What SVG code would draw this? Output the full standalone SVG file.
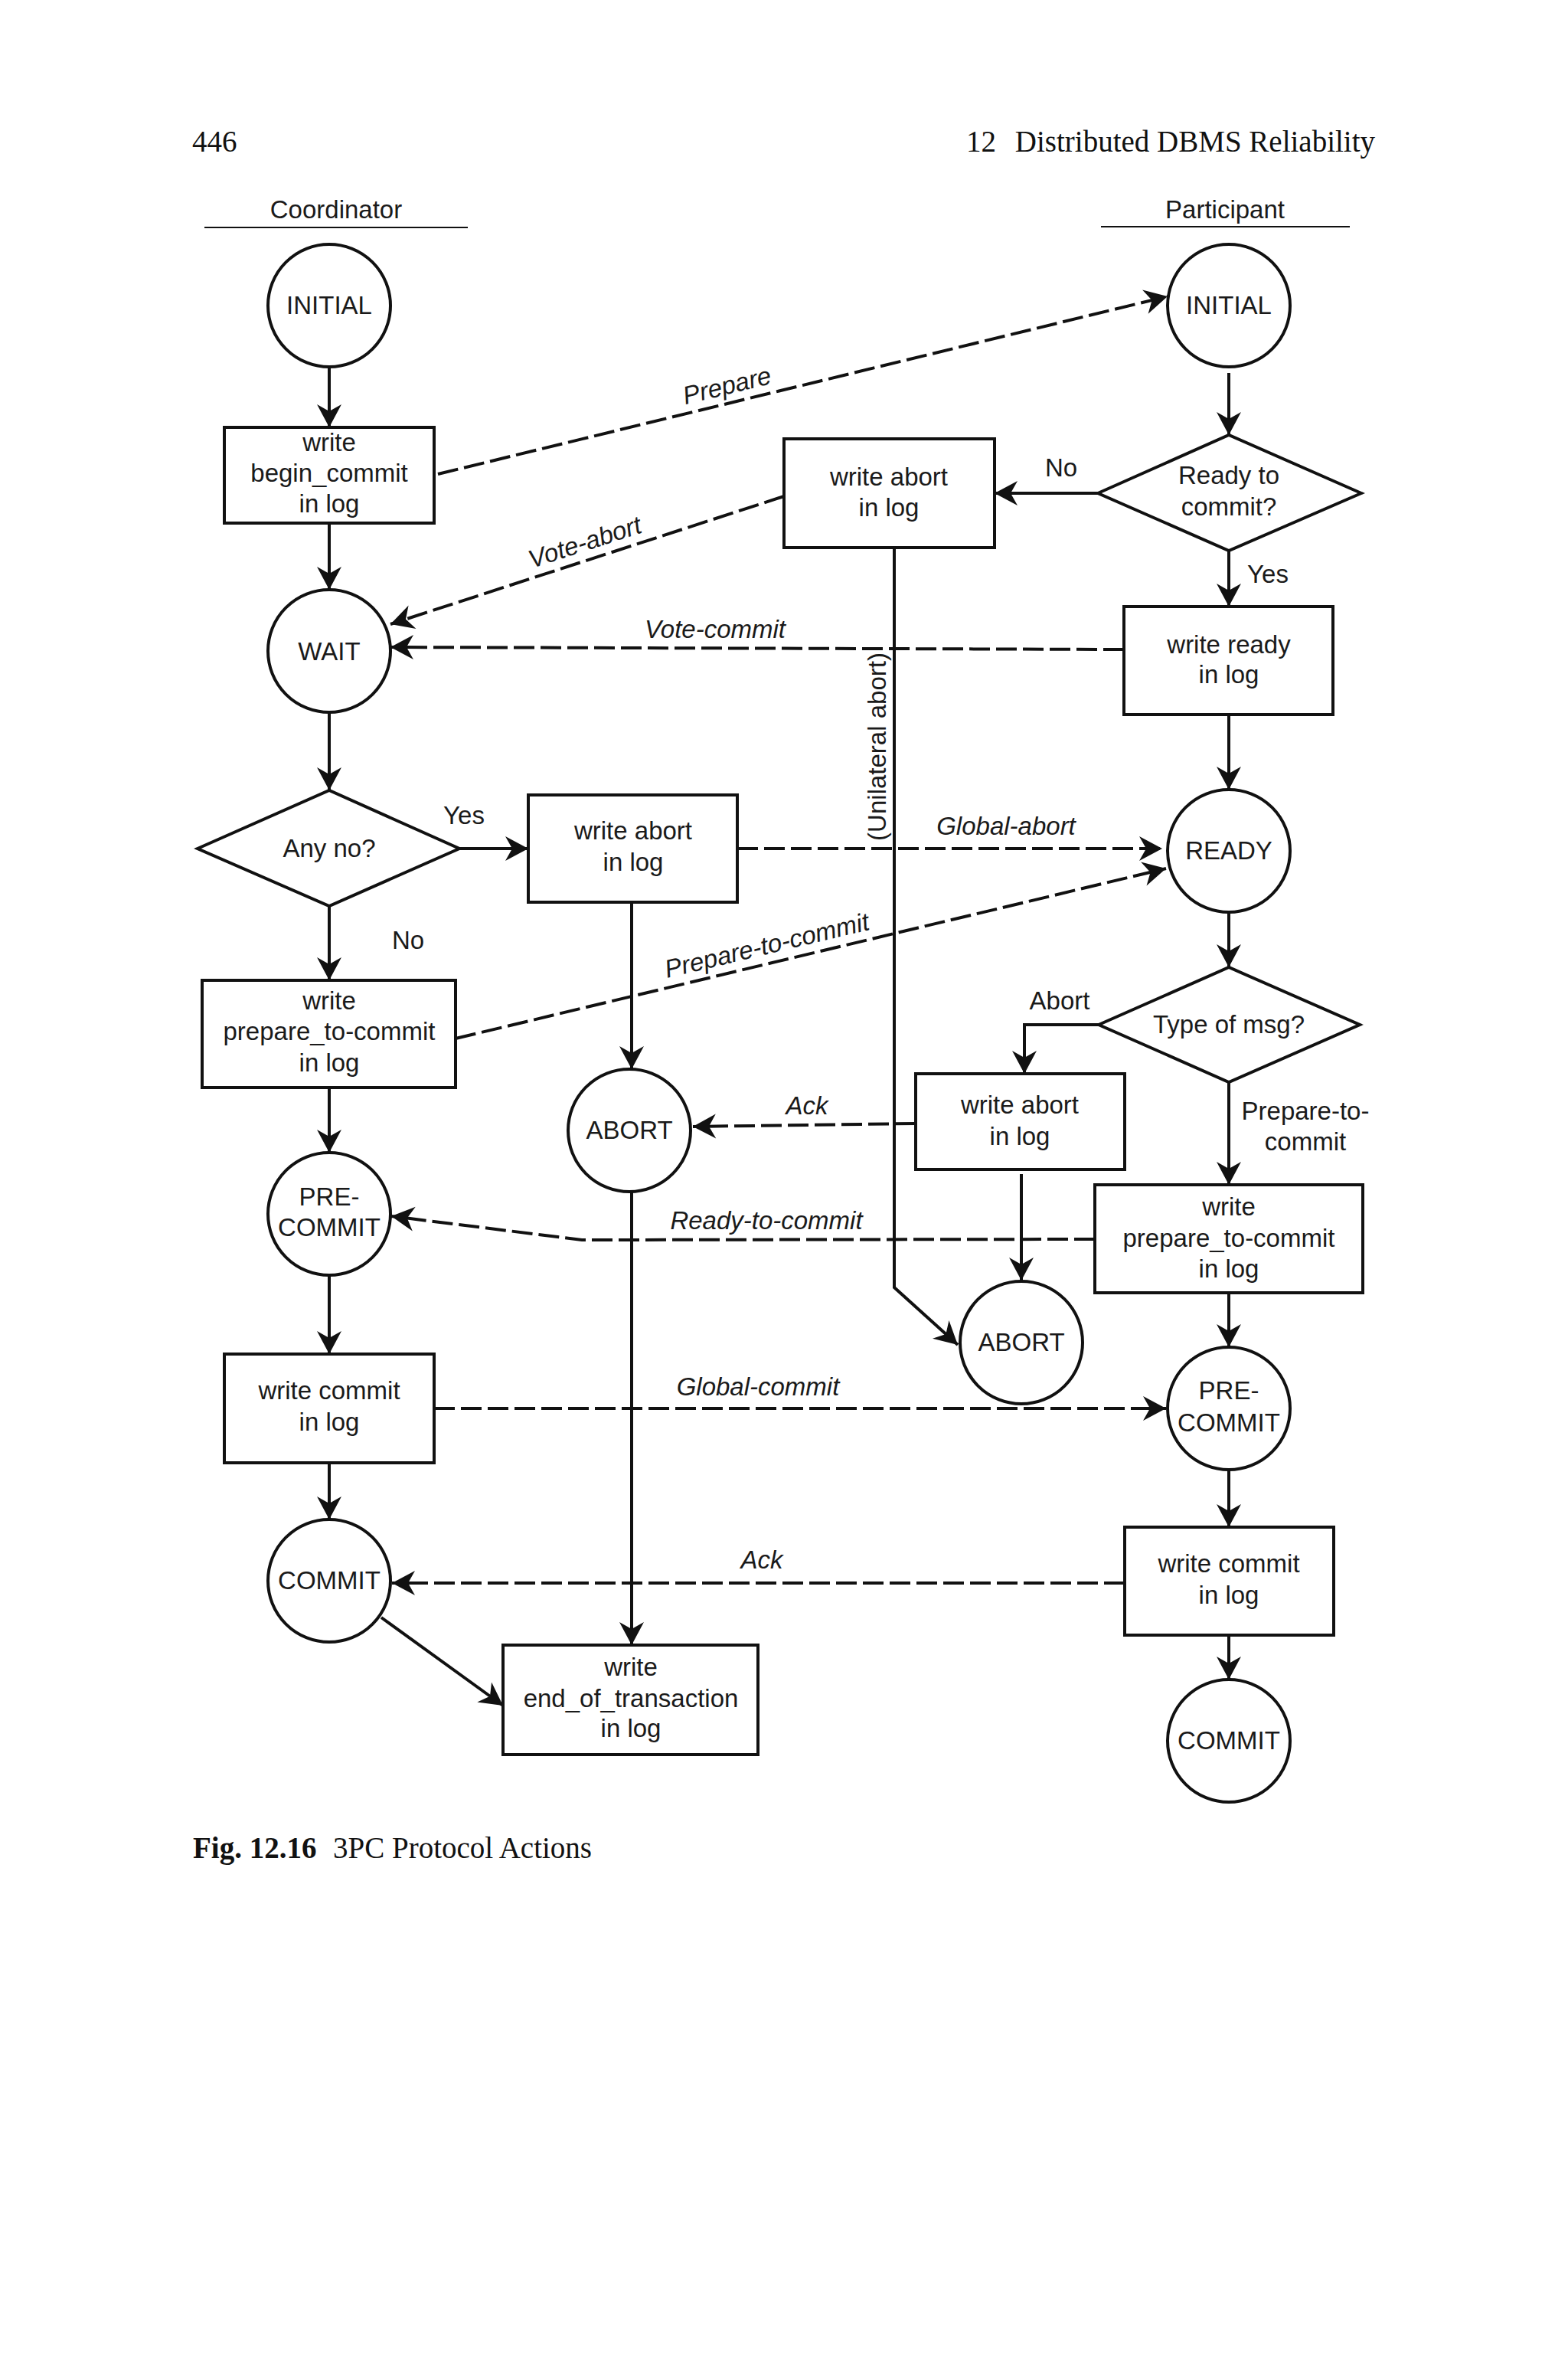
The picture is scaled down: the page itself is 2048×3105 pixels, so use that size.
<svg xmlns="http://www.w3.org/2000/svg" width="2048" height="3105" viewBox="0 0 2048 3105">
<style>
.s{fill:#fff;stroke:#111;stroke-width:4}
.t{font-family:"Liberation Sans",Arial,sans-serif;font-size:33px;fill:#1a1a1a;text-anchor:middle}
.i{font-family:"Liberation Sans",Arial,sans-serif;font-size:33px;fill:#1a1a1a;text-anchor:middle;font-style:italic}
.serif{font-family:"Liberation Serif","Times New Roman",serif;font-size:39px;fill:#111}
.c{fill:none;stroke:#111;stroke-width:4}
.d{fill:none;stroke:#111;stroke-width:4;stroke-dasharray:27 8}
.a{marker-end:url(#ah)}
</style>
<defs>
<marker id="ah" markerUnits="userSpaceOnUse" markerWidth="40" markerHeight="40" viewBox="-32 -20 36 40" refX="0" refY="0" orient="auto">
<path d="M0,0 L-30,-16 L-21,0 L-30,16 Z" fill="#111"/>
</marker>
</defs>
<rect width="2048" height="3105" fill="#fff"/>

<g id="header">
<text class="serif" x="251" y="198">446</text>
<text class="serif" x="1262" y="198">12</text>
<text class="serif" x="1796" y="198" text-anchor="end">Distributed DBMS Reliability</text>
<text class="t" x="439" y="285">Coordinator</text>
<line x1="267" y1="297" x2="611" y2="297" stroke="#111" stroke-width="2"/>
<text class="t" x="1600" y="285">Participant</text>
<line x1="1438" y1="296" x2="1763" y2="296" stroke="#111" stroke-width="2"/>
</g>

<g id="connectors">
<path class="c a" d="M430,479 L430,558"/>
<path class="c a" d="M430,683 L430,770"/>
<path class="c a" d="M430,930 L430,1032"/>
<path class="c a" d="M600,1108 L690,1108"/>
<path class="c a" d="M430,1183 L430,1280"/>
<path class="c a" d="M825,1178 L825,1396"/>
<path class="c a" d="M430,1420 L430,1505"/>
<path class="c a" d="M430,1665 L430,1768"/>
<path class="c a" d="M430,1910 L430,1984"/>
<path class="c a" d="M498,2112 L657,2227"/>
<path class="c a" d="M825,1556 L825,2148"/>
<path class="c a" d="M1605,487 L1605,568"/>
<path class="c a" d="M1434,644 L1299,644"/>
<path class="c a" d="M1605,719 L1605,792"/>
<path class="c a" d="M1605,933 L1605,1031"/>
<path class="c a" d="M1605,1191 L1605,1263"/>
<path class="c a" d="M1435,1338 L1338,1338 L1338,1402"/>
<path class="c a" d="M1605,1413 L1605,1547"/>
<path class="c a" d="M1334,1533 L1334,1672"/>
<path class="c a" d="M1605,1688 L1605,1759"/>
<path class="c a" d="M1605,1919 L1605,1994"/>
<path class="c a" d="M1605,2135 L1605,2193"/>
<path class="c a" d="M1168,715 L1168,1681 L1251,1756"/>

<path class="d a" d="M572,619 L1525,387"/>
<path class="d a" d="M1024,648 L510,815"/>
<path class="d a" d="M1468,848 L510,845"/>
<path class="d a" d="M963,1108 L1518,1108"/>
<path class="d a" d="M595,1356 L1523,1134"/>
<path class="d a" d="M1196,1467 L905,1471"/>
<path class="d a" d="M1430,1618 L760,1619 L511,1588"/>
<path class="d a" d="M567,1839 L1523,1839"/>
<path class="d a" d="M1469,2067 L512,2067"/>

<text class="i" transform="translate(955,526) rotate(-13.68)" y="-12">Prepare</text>
<text class="i" transform="translate(771,730) rotate(-18)" y="-12">Vote-abort</text>
<text class="i" x="934" y="833">Vote-commit</text>
<text class="t" transform="translate(1157,975) rotate(-90)">(Unilateral abort)</text>
<text class="i" x="1314" y="1090">Global-abort</text>
<text class="i" transform="translate(1007,1257) rotate(-13.45)" y="-12">Prepare-to-commit</text>
<text class="i" x="1054" y="1455">Ack</text>
<text class="i" x="1001" y="1605">Ready-to-commit</text>
<text class="i" x="990" y="1822">Global-commit</text>
<text class="i" x="995" y="2048">Ack</text>

<text class="t" x="1386" y="622">No</text>
<text class="t" x="1656" y="761">Yes</text>
<text class="t" x="606" y="1076">Yes</text>
<text class="t" x="533" y="1239">No</text>
<text class="t" x="1384" y="1318">Abort</text>
<text class="t" x="1705" y="1462">Prepare-to-</text>
<text class="t" x="1705" y="1502">commit</text>
</g>

<g id="c_initial"><circle class="s" cx="430" cy="399" r="80"/><text class="t" x="430" y="410">INITIAL</text></g>
<g id="c_begin"><rect class="s" x="293" y="558" width="274" height="125"/><text class="t" x="430" y="589">write</text><text class="t" x="430" y="629">begin_commit</text><text class="t" x="430" y="669">in log</text></g>
<g id="c_wait"><circle class="s" cx="430" cy="850" r="80"/><text class="t" x="430" y="862">WAIT</text></g>
<g id="c_anyno"><polygon class="s" points="258,1108 430,1032 600,1108 430,1183"/><text class="t" x="430" y="1119">Any no?</text></g>
<g id="c_writeabort"><rect class="s" x="690" y="1038" width="273" height="140"/><text class="t" x="827" y="1096">write abort</text><text class="t" x="827" y="1137">in log</text></g>
<g id="c_prepare"><rect class="s" x="264" y="1280" width="331" height="140"/><text class="t" x="430" y="1318">write</text><text class="t" x="430" y="1358">prepare_to-commit</text><text class="t" x="430" y="1399">in log</text></g>
<g id="c_abort"><circle class="s" cx="822" cy="1476" r="80"/><text class="t" x="822" y="1487">ABORT</text></g>
<g id="c_precommit"><circle class="s" cx="430" cy="1585" r="80"/><text class="t" x="430" y="1574">PRE-</text><text class="t" x="430" y="1614">COMMIT</text></g>
<g id="c_writecommit"><rect class="s" x="293" y="1768" width="274" height="142"/><text class="t" x="430" y="1827">write commit</text><text class="t" x="430" y="1868">in log</text></g>
<g id="c_commit"><circle class="s" cx="430" cy="2064" r="80"/><text class="t" x="430" y="2075">COMMIT</text></g>
<g id="c_eot"><rect class="s" x="657" y="2148" width="333" height="143"/><text class="t" x="824" y="2188">write</text><text class="t" x="824" y="2229">end_of_transaction</text><text class="t" x="824" y="2268">in log</text></g>

<g id="p_initial"><circle class="s" cx="1605" cy="399" r="80"/><text class="t" x="1605" y="410">INITIAL</text></g>
<g id="p_ready_q"><polygon class="s" points="1434,644 1605,568 1778,644 1605,719"/><text class="t" x="1605" y="632">Ready to</text><text class="t" x="1605" y="673">commit?</text></g>
<g id="p_writeabort1"><rect class="s" x="1024" y="573" width="275" height="142"/><text class="t" x="1161" y="634">write abort</text><text class="t" x="1161" y="674">in log</text></g>
<g id="p_writeready"><rect class="s" x="1468" y="792" width="273" height="141"/><text class="t" x="1605" y="853">write ready</text><text class="t" x="1605" y="892">in log</text></g>
<g id="p_ready"><circle class="s" cx="1605" cy="1111" r="80"/><text class="t" x="1605" y="1122">READY</text></g>
<g id="p_type"><polygon class="s" points="1435,1338 1605,1263 1776,1338 1605,1413"/><text class="t" x="1605" y="1349">Type of msg?</text></g>
<g id="p_writeabort2"><rect class="s" x="1196" y="1402" width="273" height="125"/><text class="t" x="1332" y="1454">write abort</text><text class="t" x="1332" y="1495">in log</text></g>
<g id="p_prepare"><rect class="s" x="1430" y="1547" width="350" height="141"/><text class="t" x="1605" y="1587">write</text><text class="t" x="1605" y="1628">prepare_to-commit</text><text class="t" x="1605" y="1668">in log</text></g>
<g id="p_abort"><circle class="s" cx="1334" cy="1753" r="80"/><text class="t" x="1334" y="1764">ABORT</text></g>
<g id="p_precommit"><circle class="s" cx="1605" cy="1839" r="80"/><text class="t" x="1605" y="1827">PRE-</text><text class="t" x="1605" y="1869">COMMIT</text></g>
<g id="p_writecommit"><rect class="s" x="1469" y="1994" width="273" height="141"/><text class="t" x="1605" y="2053">write commit</text><text class="t" x="1605" y="2094">in log</text></g>
<g id="p_commit"><circle class="s" cx="1605" cy="2273" r="80"/><text class="t" x="1605" y="2284">COMMIT</text></g>

<g id="caption">
<text class="serif" x="252" y="2426"><tspan font-weight="bold">Fig. 12.16</tspan><tspan x="435">3PC Protocol Actions</tspan></text>
</g>
</svg>
